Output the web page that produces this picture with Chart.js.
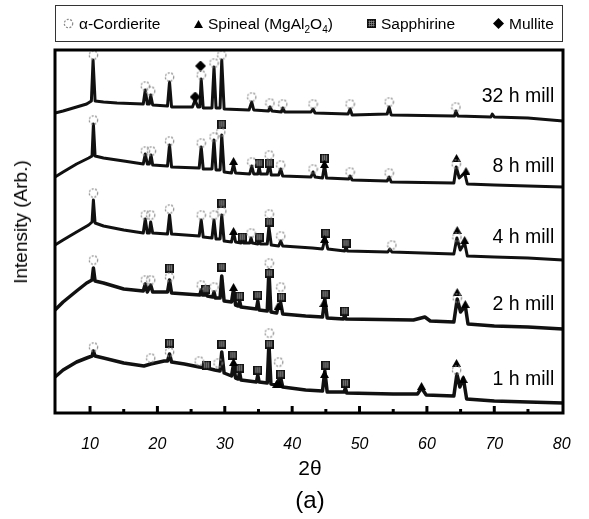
<!DOCTYPE html>
<html>
<head>
<meta charset="utf-8">
<script src="https://cdn.jsdelivr.net/npm/chart.js@4.4.1/dist/chart.umd.min.js"></script>
<style>
body { margin: 0; background: #fff; font-family: "Liberation Sans", Arial, sans-serif; }
#wrap { position: relative; width: 589px; height: 519px; overflow: hidden; }
#chart { position: absolute; left: 0; top: 0; }
#legend { position: absolute; left: 55px; top: 5px; width: 506px; height: 35px; border: 1px solid #333; }
.item { position: absolute; top: 0; line-height: 35px; font-size: 15.5px; color: #000; white-space: nowrap; }
.item canvas { vertical-align: middle; margin-right: 5px; position: relative; top: -1px; }
sub { font-size: 10px; line-height: 0; }
.txt { position: absolute; color: #000; white-space: nowrap; transform: translate(-50%, -50%); }
</style>
</head>
<body>
<div id="wrap">
  <canvas id="chart" width="589" height="519"></canvas>
  <div id="legend">
    <span class="item" id="lgCord" style="left:7px">α-Cordierite</span>
    <span class="item" id="lgSpin" style="left:138px">Spineal (MgAl<sub>2</sub>O<sub>4</sub>)</span>
    <span class="item" id="lgSapp" style="left:311px">Sapphirine</span>
    <span class="item" id="lgMull" style="left:437px">Mullite</span>
  </div>
  <div class="txt" style="left:21px; top:222px; font-size:19px; transform: translate(-50%, -50%) rotate(-90deg);">Intensity (Arb.)</div>
  <div class="txt" style="left:310px; top:468px; font-size:21px;">2θ</div>
  <div class="txt" style="left:310px; top:500px; font-size:24px;">(a)</div>
</div>
<script>
// 2theta (deg), intensity (arb.)
var mill32h = [[4.8,300],[6,302],[8,306],[9.5,309],[10.2,312],[10.45,353],[10.75,312],[12,311],[14,310],[17.9,309],[18.2,323],[18.5,309],[18.8,309],[19.0,318],[19.3,308],[21.5,307],[21.8,331],[22.1,306],[25.2,306],[25.6,313],[26.0,306],[26.3,306],[26.5,334],[26.8,305],[28.1,305],[28.4,346],[28.7,305],[29.3,305],[29.55,353],[29.9,304],[33.6,303],[34.0,311],[34.3,303],[36.5,302],[36.7,306],[37,302],[38.4,301],[38.6,305],[38.9,301],[42.8,301],[43.1,304],[43.4,300],[48.3,299],[48.6,304],[48.9,298],[54.1,299],[54.4,306],[54.7,298],[64.1,297],[64.3,302],[64.6,297],[69.5,296],[69.7,299],[70,296],[75,295],[80.2,292]];
var mill8h = [[4.8,236],[6,241],[8,249],[9.8,255],[10.3,257],[10.5,289],[10.75,257],[12,255],[15,252],[17.9,249],[18.2,259],[18.5,249],[18.8,249],[19.05,258],[19.3,248],[21.5,247],[21.8,268],[22.1,246],[26.2,245],[26.5,266],[26.8,244],[28.1,244],[28.4,273],[28.7,243],[29.3,243],[29.55,278],[29.9,241],[31.0,240],[31.3,249],[31.6,240],[33.7,239],[34.0,247],[34.3,239],[34.9,239],[35.1,246],[35.3,239],[36.3,239],[36.6,250],[36.9,238],[38.0,238],[38.3,244],[38.6,237],[42.8,236],[43.1,241],[43.4,236],[44.5,235],[44.8,248],[45.1,235],[48.4,234],[48.6,237],[48.9,233],[54.1,232],[54.4,236],[54.7,231],[64.0,230],[64.35,246],[64.8,235],[65.6,240],[66.0,229],[70,228],[75,227],[80.2,226]];
var mill4h = [[4.8,168],[6,173],[8,181],[9.8,188],[10.3,191],[10.5,213],[10.75,190],[12,187],[15,183],[17.9,180],[18.2,194],[18.5,180],[18.8,180],[19.0,191],[19.3,180],[21.5,179],[21.8,198],[22.1,179],[26.2,177],[26.5,193],[26.8,176],[28.1,175],[28.4,193],[28.7,174],[29.3,174],[29.55,198],[29.9,172],[31.0,171],[31.3,181],[31.6,171],[32.4,170],[32.6,174],[32.8,170],[33.7,170],[33.9,175],[34.1,170],[34.9,169],[35.1,173],[35.3,169],[36.3,169],[36.55,186],[36.9,168],[38.0,167],[38.3,172],[38.6,167],[43,165],[44.5,164],[44.9,175],[45.3,164],[47.8,162],[48.0,166],[48.2,162],[54.2,161],[54.5,164],[54.8,161],[64.0,159],[64.45,175],[64.95,163],[65.6,170],[66.0,157],[70,156],[75,155],[80.2,153]];
var mill2h = [[4.8,103],[6,111],[8,122],[9.5,130],[10.3,133],[10.5,145],[10.75,132],[12,130],[15,124],[17.9,122],[18.2,129],[18.5,121],[19.0,128],[19.3,121],[21.5,121],[21.8,133],[22.1,120],[26.3,118],[26.5,123],[26.7,118],[27.0,118],[27.2,122],[27.4,117],[28.2,116],[28.4,121],[28.6,115],[29.3,115],[29.55,137],[29.9,112],[31.0,111],[31.3,124],[31.6,108],[32.0,107],[32.2,112],[32.4,106],[34.7,104],[34.9,112],[35.1,103],[36.3,102],[36.55,143],[36.85,101],[37.7,100],[37.9,106],[38.3,110],[38.6,99],[42,97],[44.5,96],[44.85,114],[45.2,95],[47.6,94],[47.8,98],[48.0,94],[58,93],[59.7,96],[60.5,92],[64.0,91],[64.5,114],[65.0,101],[65.7,107],[66.1,89],[70,87],[75,86],[80.2,84]];
var mill1h = [[4.8,36],[6,43],[8,51],[9.5,55],[10.3,57],[10.5,62],[10.75,57],[12,55],[15,50],[18,47],[19,49],[21,52],[21.5,52],[21.8,59],[22.1,51],[24,49],[26.2,46],[27.3,45],[28.5,43],[29.3,42],[29.55,61],[29.9,40],[31.0,37],[31.3,49],[31.6,35],[32.0,34],[32.2,41],[32.4,33],[34.7,31],[34.9,38],[35.1,31],[36.3,30],[36.55,70],[36.85,29],[37.6,28],[37.9,32],[38.3,35],[38.6,26],[42,23],[44.5,22],[44.85,42],[45.2,21],[47.7,21],[47.9,25],[48.1,20],[55,19],[58.6,19],[59.2,25],[59.9,18],[64.0,17],[64.45,39],[64.9,26],[65.4,35],[65.9,14],[70,12],[75,11],[80.2,10]];

// phase markers over the peaks, all five patterns
var cordieritePeaks = [[10.5,358],[18.2,327],[19.0,322],[21.8,336],[26.5,338],[28.4,350],[29.55,358],[34.0,316],[36.7,310],[38.6,309],[43.1,309],[48.6,309],[54.4,311],[64.3,306],
  [10.5,293],[18.2,262],[19.1,262],[21.8,272],[26.5,270],[28.4,276],[29.4,281],[34.0,251],[36.6,258],[38.3,248],[43.1,244],[48.6,241],[54.4,240],[64.35,249],
  [10.5,220],[18.2,198],[19.0,198],[21.8,204],[26.5,198],[28.4,198],[29.55,202],[33.9,180],[36.6,199],[38.3,177],[54.8,168],[64.45,176],
  [10.5,153],[18.2,133],[19.0,133],[21.8,136],[26.5,128],[28.4,126],[36.6,150],[38.3,126],[64.5,115],
  [10.5,66],[19.0,55],[21.8,61],[26.2,52],[29.0,50],[36.6,80],[38.0,51],[64.4,43]];
var spinelPeaks = [[31.3,252],[44.8,249],[64.4,255],[65.8,242],
  [31.3,182],[44.8,174],[64.5,183],[65.6,173],
  [31.3,126],[37.9,107],[44.7,110],[64.5,121],[65.7,109],
  [31.3,51],[37.7,29],[38.1,29],[44.8,39],[59.2,27],[64.4,50],[65.4,34]];
var sapphirinePeaks = [[29.55,289],[35.1,250],[36.6,250],[44.8,255],
  [29.55,210],[32.6,176],[35.1,176],[36.6,191],[45.0,180],[48.0,170],
  [21.8,145],[27.2,124],[29.55,146],[32.2,117],[34.9,118],[36.6,140],[38.4,116],[44.9,119],[47.8,102],
  [21.8,70],[27.3,48],[29.55,69],[31.2,58],[32.2,45],[34.9,43],[36.6,69],[38.3,39],[45.0,48],[47.9,30]];
var mullitePeaks = [[25.6,316],[26.4,347]];

var traceLabels = ["32 h mill", "8 h mill", "4 h mill", "2 h mill", "1 h mill"];
var traceLabelY = [316, 246, 175, 108, 33];
var xLabels = [10, 20, 30, 40, 50, 60, 70, 80];
var majorTicks = [10, 20, 30, 40, 50, 60, 70];
var minorTicks = [15, 25, 35, 45, 55, 65, 75];

function toXY(arr) {
    return arr.map(function (p) { return { x: p[0], y: p[1] }; });
}

function makeIcon(w, h, draw) {
    var c = document.createElement("canvas");
    c.width = w;
    c.height = h;
    draw(c.getContext("2d"));
    return c;
}
function circleIcon() {
    return makeIcon(11, 11, function (g) {
        g.strokeStyle = "#8a8a8a";
        g.lineWidth = 1.2;
        g.setLineDash([2, 1.5]);
        g.beginPath();
        g.arc(5.5, 5.5, 4.2, 0, Math.PI * 2);
        g.stroke();
    });
}
function triangleIcon() {
    return makeIcon(9, 8, function (g) {
        g.fillStyle = "#000";
        g.beginPath();
        g.moveTo(4.5, 0);
        g.lineTo(9, 8);
        g.lineTo(0, 8);
        g.closePath();
        g.fill();
    });
}
function sapphirineIcon() {
    return makeIcon(9, 9, function (g) {
        g.fillStyle = "#111";
        g.fillRect(0, 0, 9, 9);
        g.fillStyle = "#8f8f8f";
        for (var i = 2; i <= 6; i += 2) {
            g.fillRect(i, 1.5, 0.7, 6);
            g.fillRect(1.5, i, 6, 0.7);
        }
    });
}
function diamondIcon() {
    return makeIcon(11, 11, function (g) {
        g.fillStyle = "#000";
        g.beginPath();
        g.moveTo(5.5, 0);
        g.lineTo(11, 5.5);
        g.lineTo(5.5, 11);
        g.lineTo(0, 5.5);
        g.closePath();
        g.fill();
    });
}

// legend icons
document.getElementById("lgCord").prepend(circleIcon());
document.getElementById("lgSpin").prepend(triangleIcon());
document.getElementById("lgSapp").prepend(sapphirineIcon());
document.getElementById("lgMull").prepend(diamondIcon());

var framePlugin = {
    id: "frame",
    afterDatasetsDraw: function (chart) {
        var ctx = chart.ctx;
        var a = chart.chartArea;
        var x = chart.scales.x;
        var y = chart.scales.y;
        ctx.save();
        ctx.strokeStyle = "#000";
        ctx.lineWidth = 3;
        ctx.strokeRect(a.left, a.top, a.right - a.left, a.bottom - a.top);
        // ticks pointing into the plot
        majorTicks.forEach(function (v) {
            var px = x.getPixelForValue(v);
            ctx.beginPath();
            ctx.moveTo(px, a.bottom);
            ctx.lineTo(px, a.bottom - 7);
            ctx.stroke();
        });
        minorTicks.forEach(function (v) {
            var px = x.getPixelForValue(v);
            ctx.beginPath();
            ctx.moveTo(px, a.bottom);
            ctx.lineTo(px, a.bottom - 4);
            ctx.stroke();
        });
        ctx.font = '19.5px "Liberation Sans", Arial, sans-serif';
        ctx.fillStyle = "#000";
        ctx.textAlign = "right";
        ctx.textBaseline = "middle";
        traceLabels.forEach(function (t, i) {
            ctx.fillText(t, x.getPixelForValue(78.9), y.getPixelForValue(traceLabelY[i]));
        });
        ctx.restore();
    },
};

var traces = [mill32h, mill8h, mill4h, mill2h, mill1h];
var datasets = traces.map(function (t, i) {
    return {
        type: "line",
        data: toXY(t),
        borderColor: "#111",
        borderWidth: i >= 3 ? 3.5 : 3,
        borderJoinStyle: "round",
        pointRadius: 0,
        tension: 0,
        order: 2,
    };
});
var markers = [
    [cordieritePeaks, circleIcon()],
    [spinelPeaks, triangleIcon()],
    [sapphirinePeaks, sapphirineIcon()],
    [mullitePeaks, diamondIcon()],
];
markers.forEach(function (m) {
    datasets.push({
        type: "scatter",
        data: toXY(m[0]),
        pointStyle: m[1],
        pointRadius: 5,
        showLine: false,
        order: 1,
    });
});

new Chart("chart", {
    type: "line",
    data: { datasets: datasets },
    options: {
        responsive: false,
        animation: false,
        events: [],
        layout: { padding: { left: 55, right: 26, top: 50, bottom: 0 } },
        plugins: { legend: { display: false }, tooltip: { enabled: false } },
        scales: {
            x: {
                type: "linear",
                min: 4.8,
                max: 80.2,
                grid: { display: false },
                border: { display: false },
                afterBuildTicks: function (scale) {
                    scale.ticks = xLabels.map(function (v) { return { value: v }; });
                },
                afterFit: function (scale) {
                    scale.height = 106;
                },
                ticks: {
                    padding: 14,
                    color: "#000",
                    maxRotation: 0,
                    font: { family: '"Liberation Sans", Arial, sans-serif', size: 16, style: "italic" },
                },
            },
            y: {
                type: "linear",
                min: 0,
                max: 363,
                display: false,
            },
        },
    },
    plugins: [framePlugin],
});
</script>
</body>
</html>
